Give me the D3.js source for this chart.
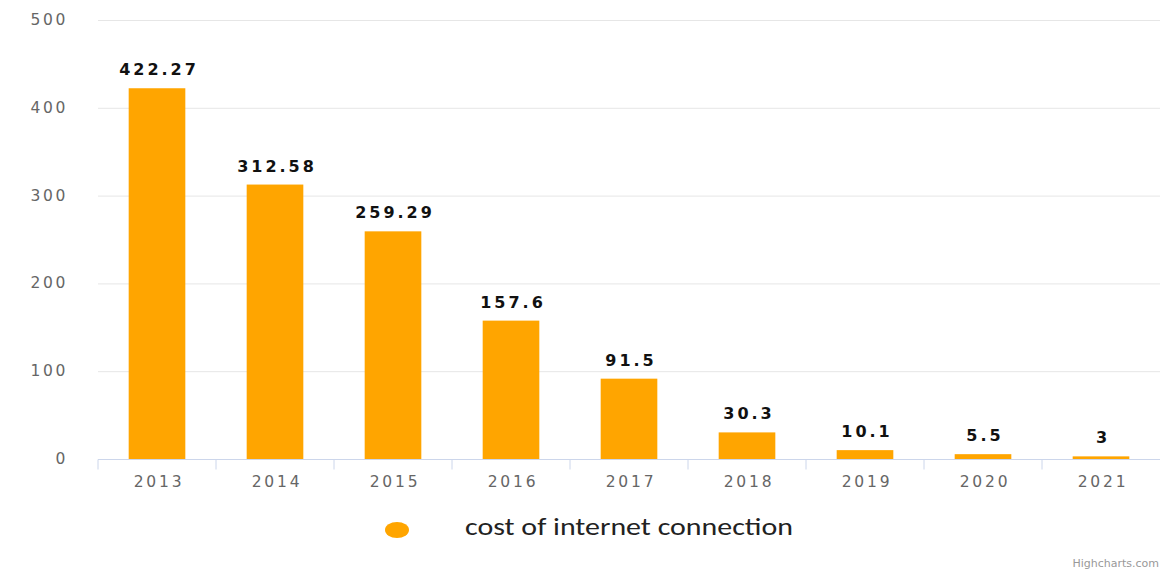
<!DOCTYPE html>
<html>
<head>
<meta charset="utf-8">
<script src="https://cdn.jsdelivr.net/npm/d3@7"></script>
<style>
  body { margin: 0; background: #fff; }
  svg { display: block; }
</style>
</head>
<body>
<script>
var years = ["2013", "2014", "2015", "2016", "2017", "2018", "2019", "2020", "2021"];
var costs = [422.27, 312.58, 259.29, 157.6, 91.5, 30.3, 10.1, 5.5, 3];
var yTicks = [0, 100, 200, 300, 400, 500];
var seriesName = "cost of internet connection";

var width = 1161, height = 570;
var margin = {top: 20, right: 1, bottom: 111, left: 98};

var svg = d3.select("body").append("svg")
  .attr("width", width)
  .attr("height", height);

var x = d3.scaleBand()
  .domain(years)
  .range([margin.left, width - margin.right])
  .paddingInner(0.52)
  .paddingOuter(0.26);

var y = d3.scaleLinear()
  .domain([0, 500])
  .range([height - margin.bottom, margin.top]);

// grid lines
svg.append("g").selectAll("line")
  .data(yTicks.filter(function(d) { return d > 0; }))
  .enter().append("line")
  .attr("x1", margin.left)
  .attr("x2", width - margin.right)
  .attr("y1", function(d) { return y(d) + 0.5; })
  .attr("y2", function(d) { return y(d) + 0.5; })
  .attr("stroke", "#e6e6e6")
  .attr("stroke-width", 1);

// y labels
svg.append("g").selectAll("text")
  .data(yTicks)
  .enter().append("text")
  .attr("x", 68)
  .attr("y", function(d) { return y(d) + 5; })
  .attr("text-anchor", "end")
  .attr("font-family", "DejaVu Sans, Verdana, sans-serif")
  .attr("font-size", 15.5)
  .attr("letter-spacing", 2.6)
  .attr("fill", "#666")
  .text(function(d) { return d; });

// bars
svg.append("g").selectAll("rect")
  .data(costs)
  .enter().append("rect")
  .attr("x", function(d, i) { return x(years[i]); })
  .attr("y", function(d) { return y(d); })
  .attr("width", x.bandwidth())
  .attr("height", function(d) { return y(0) - y(d); })
  .attr("fill", "#ffa500");

// data labels
svg.append("g").selectAll("text")
  .data(costs)
  .enter().append("text")
  .attr("x", function(d, i) { return x(years[i]) + x.bandwidth() / 2 + 2; })
  .attr("y", function(d) { return y(d) - 13; })
  .attr("text-anchor", "middle")
  .attr("font-family", "DejaVu Sans, Verdana, sans-serif")
  .attr("font-weight", "bold")
  .attr("font-size", 16)
  .attr("letter-spacing", 3)
  .attr("fill", "#111")
  .text(function(d) { return d; });

// x axis
var xAxis = svg.append("g")
  .attr("transform", "translate(0," + (y(0) + 0.5) + ")");

xAxis.append("line")
  .attr("x1", margin.left)
  .attr("x2", width - margin.right)
  .attr("stroke", "#ccd6eb");

xAxis.selectAll(".tick")
  .data(years)
  .enter().append("line")
  .attr("class", "tick")
  .attr("x1", function(d) { return x(d) - x.step() * x.paddingInner() / 2; })
  .attr("x2", function(d) { return x(d) - x.step() * x.paddingInner() / 2; })
  .attr("y1", 0)
  .attr("y2", 10)
  .attr("stroke", "#ccd6eb");

xAxis.selectAll("text")
  .data(years)
  .enter().append("text")
  .attr("x", function(d) { return x(d) + x.bandwidth() / 2 + 2; })
  .attr("y", 27)
  .attr("text-anchor", "middle")
  .attr("font-family", "DejaVu Sans, Verdana, sans-serif")
  .attr("font-size", 15.5)
  .attr("letter-spacing", 2.8)
  .attr("fill", "#666")
  .text(function(d) { return d; });

// legend
var legend = svg.append("g");
legend.append("ellipse")
  .attr("cx", 397)
  .attr("cy", 530)
  .attr("rx", 12)
  .attr("ry", 8)
  .attr("fill", "#ffa500");
legend.append("text")
  .attr("x", 465)
  .attr("y", 535)
  .attr("font-family", "Carlito, Liberation Sans, sans-serif")
  .attr("font-size", 24)
  .attr("textLength", 328)
  .attr("lengthAdjust", "spacingAndGlyphs")
  .attr("fill", "#222")
  .text(seriesName);

// credits
svg.append("text")
  .attr("x", 1159)
  .attr("y", 567)
  .attr("text-anchor", "end")
  .attr("font-family", "DejaVu Sans, Verdana, sans-serif")
  .attr("font-size", 11)
  .attr("fill", "#999")
  .text("Highcharts.com");
</script>
</body>
</html>
